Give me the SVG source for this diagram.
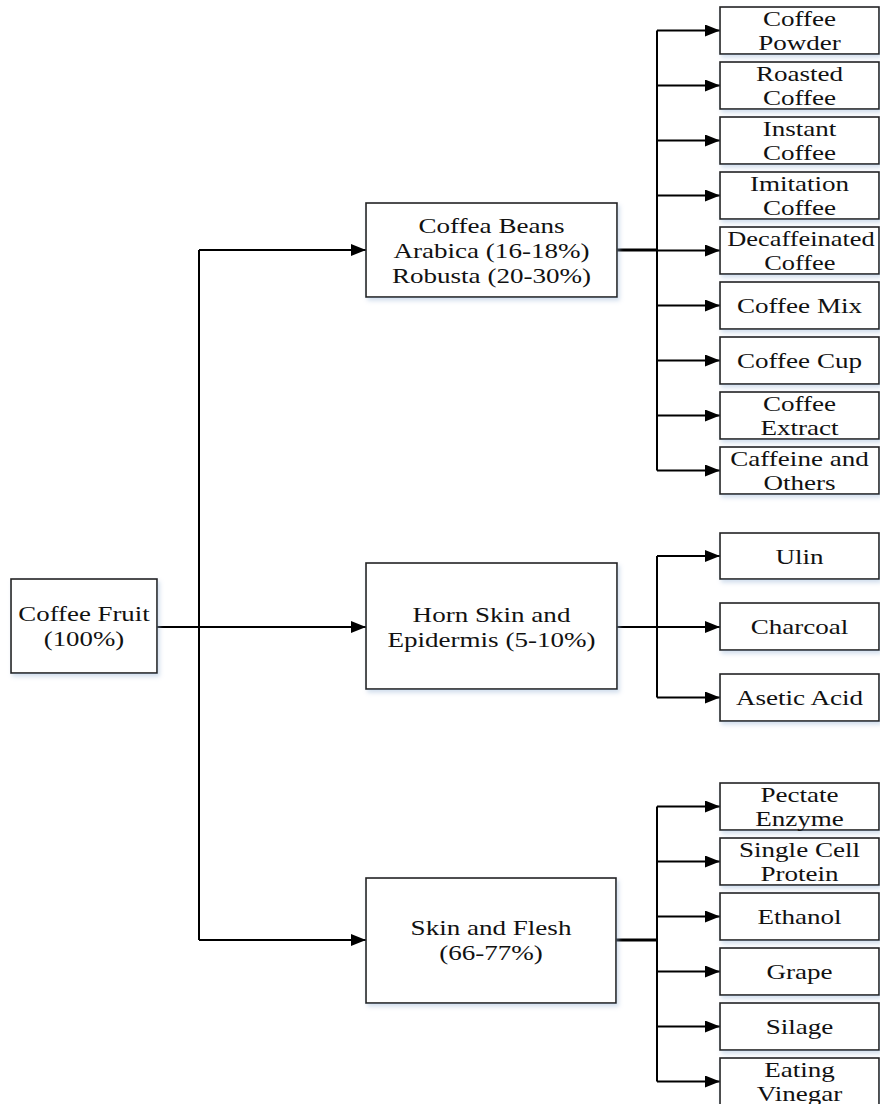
<svg xmlns="http://www.w3.org/2000/svg" width="880" height="1104" viewBox="0 0 880 1104">
<style>
.box{fill:#fff;stroke:#222;stroke-width:1.6;filter:url(#sh)}
.t{font-family:"Liberation Serif","Times New Roman",serif;font-size:22px;fill:#111;text-anchor:middle}
.c{fill:none;stroke:#000;stroke-width:2}
.cb{fill:none;stroke:#000;stroke-width:3}
.a{fill:none;stroke:#000;stroke-width:2;marker-end:url(#arr)}
</style>
<defs>
<marker id="arr" viewBox="0 0 15 12" refX="15" refY="6" markerWidth="15" markerHeight="12" markerUnits="userSpaceOnUse" orient="auto"><path d="M0,0 L15,6 L0,12 z" fill="#000"/></marker>
<filter id="sh" x="-10%" y="-10%" width="125%" height="130%"><feDropShadow dx="2" dy="3" stdDeviation="2" flood-color="#9db7d8" flood-opacity="0.45"/></filter>
</defs>
<g id="connectors">
<path class="c" d="M157,627 H199"/>
<path class="c" d="M199,250 V940"/>
<path class="a" d="M199,250 H366"/>
<path class="a" d="M199,627 H366"/>
<path class="a" d="M199,940 H366"/>
<path class="cb" d="M617,250 H657"/>
<path class="c" d="M657,30.5 V470.5"/>
<path class="a" d="M657,30.5 H720"/>
<path class="a" d="M657,85.5 H720"/>
<path class="a" d="M657,140.5 H720"/>
<path class="a" d="M657,195.5 H720"/>
<path class="a" d="M657,250.5 H720"/>
<path class="a" d="M657,305.5 H720"/>
<path class="a" d="M657,360.5 H720"/>
<path class="a" d="M657,415.5 H720"/>
<path class="a" d="M657,470.5 H720"/>
<path class="c" d="M617,627 H657"/>
<path class="c" d="M657,556 V697.5"/>
<path class="a" d="M657,556 H720"/>
<path class="a" d="M657,627 H720"/>
<path class="a" d="M657,697.5 H720"/>
<path class="cb" d="M616,940 H657"/>
<path class="c" d="M657,806.5 V1081.5"/>
<path class="a" d="M657,806.5 H720"/>
<path class="a" d="M657,861.5 H720"/>
<path class="a" d="M657,916.5 H720"/>
<path class="a" d="M657,971.5 H720"/>
<path class="a" d="M657,1026.5 H720"/>
<path class="a" d="M657,1081.5 H720"/>
</g>
<g id="coffee-fruit"><rect class="box" x="11" y="579" width="146" height="94"/><text class="t" transform="translate(84,621) scale(1.22,1)"><tspan x="0">Coffee Fruit</tspan><tspan x="0" dy="25">(100%)</tspan></text></g>
<g id="coffea-beans"><rect class="box" x="366" y="203" width="251" height="94"/><text class="t" transform="translate(491.5,233) scale(1.23,1)"><tspan x="0">Coffea Beans</tspan><tspan x="0" dy="25">Arabica (16-18%)</tspan><tspan x="0" dy="25">Robusta (20-30%)</tspan></text></g>
<g id="horn-skin"><rect class="box" x="366" y="563" width="251" height="126"/><text class="t" transform="translate(491.5,622) scale(1.23,1)"><tspan x="0">Horn Skin and</tspan><tspan x="0" dy="25">Epidermis (5-10%)</tspan></text></g>
<g id="skin-flesh"><rect class="box" x="366" y="878" width="250" height="125"/><text class="t" transform="translate(491,935) scale(1.23,1)"><tspan x="0">Skin and Flesh</tspan><tspan x="0" dy="25">(66-77%)</tspan></text></g>
<g id="coffee-powder"><rect class="box" x="720" y="7" width="159" height="47"/><text class="t" transform="translate(799.5,26) scale(1.23,1)"><tspan x="0">Coffee</tspan><tspan x="0" dy="24">Powder</tspan></text></g>
<g id="roasted-coffee"><rect class="box" x="720" y="62" width="159" height="47"/><text class="t" transform="translate(799.5,81) scale(1.23,1)"><tspan x="0">Roasted</tspan><tspan x="0" dy="24">Coffee</tspan></text></g>
<g id="instant-coffee"><rect class="box" x="720" y="117" width="159" height="47"/><text class="t" transform="translate(799.5,136) scale(1.23,1)"><tspan x="0">Instant</tspan><tspan x="0" dy="24">Coffee</tspan></text></g>
<g id="imitation-coffee"><rect class="box" x="720" y="172" width="159" height="47"/><text class="t" transform="translate(799.5,191) scale(1.23,1)"><tspan x="0">Imitation</tspan><tspan x="0" dy="24">Coffee</tspan></text></g>
<g id="decaf-coffee"><rect class="box" x="720" y="227" width="159" height="47"/><text class="t" transform="translate(801,246) scale(1.2,1)"><tspan x="0">Decaffeinated</tspan><tspan x="-1" dy="24">Coffee</tspan></text></g>
<g id="coffee-mix"><rect class="box" x="720" y="282" width="159" height="47"/><text class="t" transform="translate(799.5,313) scale(1.23,1)">Coffee Mix</text></g>
<g id="coffee-cup"><rect class="box" x="720" y="337" width="159" height="47"/><text class="t" transform="translate(799.5,368) scale(1.23,1)">Coffee Cup</text></g>
<g id="coffee-extract"><rect class="box" x="720" y="392" width="159" height="47"/><text class="t" transform="translate(799.5,411) scale(1.23,1)"><tspan x="0">Coffee</tspan><tspan x="0" dy="24">Extract</tspan></text></g>
<g id="caffeine-others"><rect class="box" x="720" y="447" width="159" height="47"/><text class="t" transform="translate(799.5,466) scale(1.23,1)"><tspan x="0">Caffeine and</tspan><tspan x="0" dy="24">Others</tspan></text></g>
<g id="ulin"><rect class="box" x="720" y="533" width="159" height="46"/><text class="t" transform="translate(799.5,563.5) scale(1.23,1)">Ulin</text></g>
<g id="charcoal"><rect class="box" x="720" y="603" width="159" height="47"/><text class="t" transform="translate(799.5,634) scale(1.23,1)">Charcoal</text></g>
<g id="asetic-acid"><rect class="box" x="720" y="674" width="159" height="47"/><text class="t" transform="translate(799.5,705) scale(1.23,1)">Asetic Acid</text></g>
<g id="pectate-enzyme"><rect class="box" x="720" y="783" width="159" height="47"/><text class="t" transform="translate(799.5,802) scale(1.23,1)"><tspan x="0">Pectate</tspan><tspan x="0" dy="24">Enzyme</tspan></text></g>
<g id="single-cell"><rect class="box" x="720" y="838" width="159" height="47"/><text class="t" transform="translate(799.5,857) scale(1.23,1)"><tspan x="0">Single Cell</tspan><tspan x="0" dy="24">Protein</tspan></text></g>
<g id="ethanol"><rect class="box" x="720" y="893" width="159" height="47"/><text class="t" transform="translate(799.5,924) scale(1.23,1)">Ethanol</text></g>
<g id="grape"><rect class="box" x="720" y="948" width="159" height="47"/><text class="t" transform="translate(799.5,979) scale(1.23,1)">Grape</text></g>
<g id="silage"><rect class="box" x="720" y="1003" width="159" height="47"/><text class="t" transform="translate(799.5,1034) scale(1.23,1)">Silage</text></g>
<g id="eating-vinegar"><rect class="box" x="720" y="1058" width="159" height="47"/><text class="t" transform="translate(799.5,1077) scale(1.23,1)"><tspan x="0">Eating</tspan><tspan x="0" dy="24">Vinegar</tspan></text></g>
</svg>
